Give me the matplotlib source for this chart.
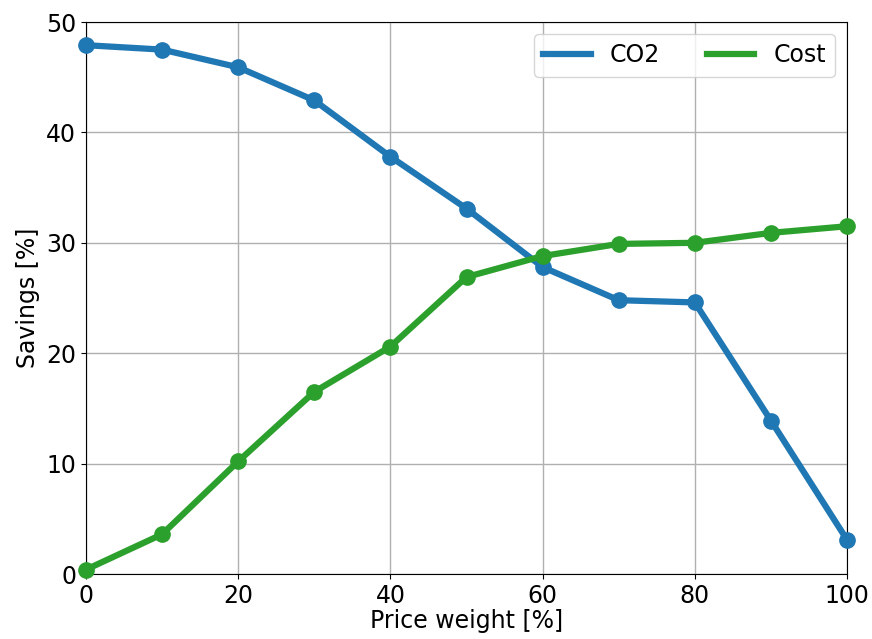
import matplotlib
matplotlib.use("Agg")
import matplotlib.pyplot as plt
from matplotlib.lines import Line2D

price_weight = [0, 10, 20, 30, 40, 50, 60, 70, 80, 90, 100]
co2 = [47.9, 47.5, 45.9, 42.9, 37.8, 33.1, 27.8, 24.8, 24.6, 13.9, 3.1]
cost = [0.4, 3.6, 10.2, 16.5, 20.6, 26.9, 28.8, 29.9, 30.0, 30.9, 31.5]

plt.rcParams['font.size'] = 17
fig = plt.figure(figsize=(8.72, 6.39), dpi=100)
ax = fig.add_axes([86/872, 1-574/639, (847-86)/872, (574-22)/639])
ax.plot(price_weight, co2, '-o', color='#1f77b4', lw=4.5, ms=11, clip_on=False, zorder=3)
ax.plot(price_weight, cost, '-o', color='#2ca02c', lw=4.5, ms=11, clip_on=False, zorder=3)
ax.set_xlim(0, 100)
ax.set_ylim(0, 50)
ax.set_xticks([0, 20, 40, 60, 80, 100])
ax.set_yticks([0, 10, 20, 30, 40, 50])
ax.grid(True, color='#b0b0b0', lw=1)
ax.set_axisbelow(True)
ax.set_xlabel('Price weight [%]', labelpad=1)
ax.set_ylabel('Savings [%]', labelpad=4)
handles = [Line2D([], [], color='#1f77b4', lw=4.5), Line2D([], [], color='#2ca02c', lw=4.5)]
ax.legend(handles, ['CO2', 'Cost'], loc='upper right', ncol=2, handlelength=2.0)
fig.savefig('out.png', dpi=100)
